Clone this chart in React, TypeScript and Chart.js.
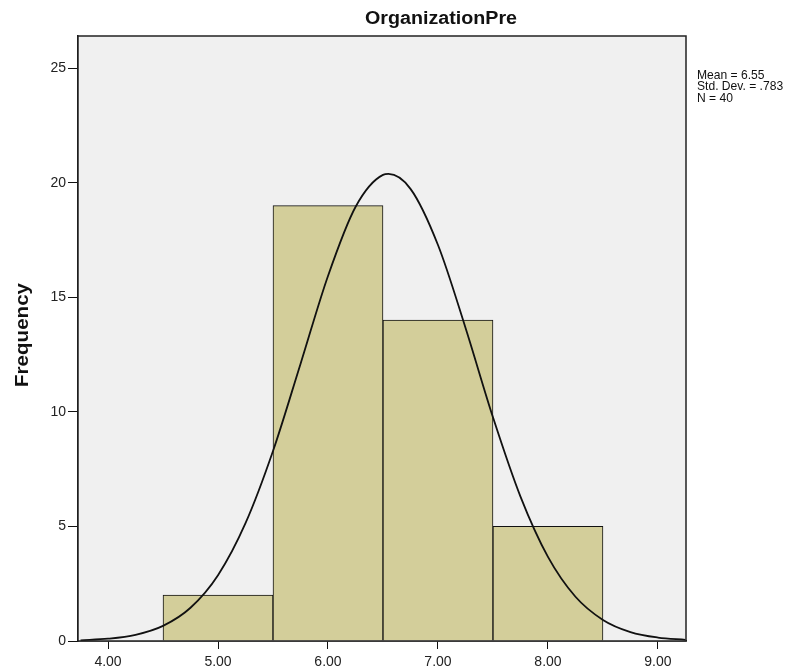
import { useEffect, useRef } from "react";
import { Chart, registerables } from "chart.js";

Chart.register(...registerables);

const binCenters = [5, 6, 7, 8];
const binCounts = [2, 19, 14, 5];
const curveX = [3.75, 4.0, 4.25, 4.5, 4.75, 5.0, 5.25, 5.5, 5.75, 6.0, 6.25, 6.5, 6.55, 6.75, 7.0, 7.25, 7.5, 7.75, 8.0, 8.25, 8.5, 8.75, 9.0, 9.25];
const curveY = [0.03, 0.1, 0.27, 0.66, 1.45, 2.87, 5.14, 8.29, 12.09, 15.93, 18.94, 20.34, 20.38, 19.73, 17.28, 13.67, 9.76, 6.3, 3.67, 1.93, 0.92, 0.39, 0.15, 0.05];
const xTicks = [4, 5, 6, 7, 8, 9];
const yTicks = [0, 5, 10, 15, 20, 25];
const titleText = "OrganizationPre";
const yTitle = "Frequency";
const statsLines = ["Mean = 6.55", "Std. Dev. = .783", "N = 40"];

const FONT = "'Liberation Sans', Arial, sans-serif";

function fitText(ctx: CanvasRenderingContext2D, text: string, x: number, y: number, targetW: number) {
  const w = ctx.measureText(text).width;
  const s = targetW / w;
  ctx.save();
  ctx.translate(x, y);
  ctx.scale(s, 1);
  ctx.fillText(text, 0, 0);
  ctx.restore();
}

export default function App() {
  const ref = useRef<HTMLCanvasElement | null>(null);
  useEffect(() => {
    if (!ref.current) return;
    const framePlugin = {
      id: "frame",
      beforeDatasetsDraw(chart: any) {
        const { ctx, chartArea: a } = chart;
        ctx.save();
        ctx.fillStyle = "#f0f0f0";
        ctx.fillRect(a.left, a.top, a.right - a.left, a.bottom - a.top);
        ctx.restore();
      },
      afterDraw(chart: any) {
        const { ctx, chartArea: a } = chart;
        ctx.save();
        ctx.strokeStyle = "#222";
        ctx.lineWidth = 1.5;
        ctx.strokeRect(a.left, a.top, a.right - a.left, a.bottom - a.top);
        ctx.fillStyle = "#111";
        ctx.font = `bold 18px ${FONT}`;
        ctx.textAlign = "center";
        ctx.textBaseline = "middle";
        fitText(ctx, titleText, 441, 19, 152);
        ctx.save();
        ctx.translate(23, 335);
        ctx.rotate(-Math.PI / 2);
        ctx.font = `bold 18px ${FONT}`;
        fitText(ctx, yTitle, 0, 0, 104);
        ctx.restore();
        ctx.font = `13px ${FONT}`;
        ctx.textAlign = "left";
        statsLines.forEach((s, i) => {
          ctx.save();
          ctx.translate(697, 75 + i * 11.5);
          ctx.scale(0.93, 1);
          ctx.fillText(s, 0, 0);
          ctx.restore();
        });
        ctx.restore();
      },
    };
    const chart = new Chart(ref.current, {
      type: "bar",
      data: {
        datasets: [
          {
            type: "line",
            data: curveX.map((x, i) => ({ x, y: curveY[i] })),
            borderColor: "#111",
            borderWidth: 1.8,
            pointRadius: 0,
            tension: 0.4,
            cubicInterpolationMode: "monotone",
            fill: false,
            order: 0,
          } as any,
          {
            type: "bar",
            data: binCenters.map((x, i) => ({ x, y: binCounts[i] })),
            backgroundColor: "#d3ce9a",
            borderColor: "#111",
            borderWidth: 1,
            barPercentage: 1,
            categoryPercentage: 1,
            order: 1,
          } as any,
        ],
      },
      options: {
        animation: false,
        responsive: false,
        maintainAspectRatio: false,
        layout: { padding: { left: 0, top: 36, right: 126, bottom: 0 } },
        plugins: { legend: { display: false }, tooltip: { enabled: false }, title: { display: false } },
        scales: {
          x: {
            type: "linear",
            min: 3.727,
            max: 9.255,
            offset: false,
            grid: { display: true, offset: false, drawOnChartArea: false, drawTicks: true, tickLength: 8, color: "#111" },
            border: { display: true, color: "#111", width: 1.5 },
            afterBuildTicks: (s: any) => { s.ticks = xTicks.map((v) => ({ value: v })); },
            afterFit: (s: any) => { s.height = 31; },
            ticks: {
              color: "#222",
              font: { family: FONT, size: 14 },
              padding: 5,
              maxRotation: 0,
              autoSkip: false,
              callback: (v: any) => Number(v).toFixed(2),
            },
          },
          y: {
            type: "linear",
            min: 0,
            max: 26.4,
            grid: { display: true, drawOnChartArea: false, drawTicks: true, tickLength: 10, color: "#111" },
            border: { display: true, color: "#111", width: 1.5 },
            afterBuildTicks: (s: any) => { s.ticks = yTicks.map((v) => ({ value: v })); },
            afterFit: (s: any) => { s.width = 78; },
            ticks: { color: "#222", font: { family: FONT, size: 14 }, padding: 2, autoSkip: false },
          },
        },
      } as any,
      plugins: [framePlugin],
    });
    return () => chart.destroy();
  }, []);
  return (
    <div style={{ position: "fixed", left: 0, top: 0, width: 812, height: 672, background: "#fff" }}>
      <canvas ref={ref} width={812} height={672} style={{ width: 812, height: 672 }} />
    </div>
  );
}
